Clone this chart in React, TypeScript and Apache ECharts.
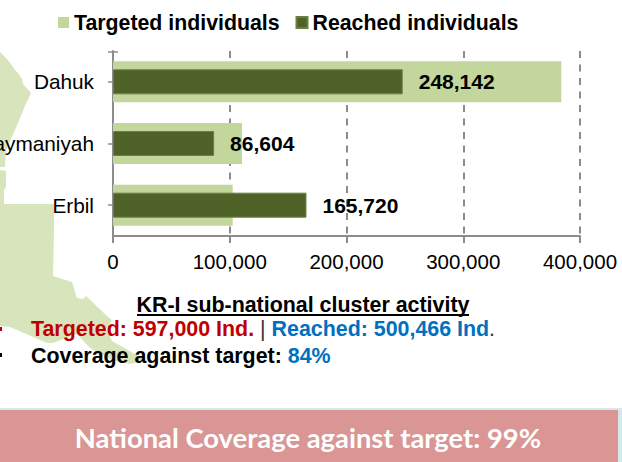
import React, { useEffect, useRef } from "react";
import * as echarts from "echarts";

const categories = ["Erbil", "Sulaymaniyah", "Dahuk"];
const targeted = [102500, 110500, 384000];
const reached = [165720, 86604, 248142];
const xTicks = { min: 0, max: 400000, interval: 100000 };
const legendNames = ["Targeted individuals", "Reached individuals"];

const mapUpper = [[0,52],[6,58],[11,64],[15,70],[18,73],[22,79],[23,84],[31,93],[25,106],[15,130],[6,150],[5,167],[0,167]];
const mapMiddle = [[0,170],[6,171],[6,187],[4,190],[4,192],[0,192]];
const mapLower = [[0,192],[4,192],[4,204],[54,204],[54,231],[53,276],[72,282],[77,298],[83,299],[86,296],[107,316],[112,320],[106,329],[112,341],[133,353],[146,360],[130,364],[113,360],[90,348],[77,334],[53,343],[47,343],[10,327],[0,326]];

const FONT = "'Liberation Sans', Arial, sans-serif";
const fmt = (v: number) => v.toLocaleString("en-US");

export default function App() {
  const ref = useRef<HTMLDivElement>(null);
  useEffect(() => {
    document.body.style.margin = "0";
    const chart = echarts.init(ref.current!, undefined, { renderer: "svg" });
    const mapFill = "#d8e4bc";
    const yBase = {
      type: "category",
      data: categories,
    };
    chart.setOption({
      animation: false,
      textStyle: { fontFamily: FONT },
      legend: {
        left: 58,
        top: 12,
        itemWidth: 11,
        itemHeight: 11,
        itemGap: 16,
        padding: 0,
        icon: "rect",
        selectedMode: false,
        data: legendNames,
        textStyle: { fontFamily: FONT, fontSize: 21.3, fontWeight: "bold", color: "#000" },
      },
      grid: { left: 113, right: 42, top: 51, bottom: 226, outerBoundsMode: "none" },
      xAxis: {
        type: "value",
        ...xTicks,
        axisLine: { show: true, lineStyle: { color: "#8c8c8c", width: 2 } },
        axisTick: { show: true, length: 7, lineStyle: { color: "#8c8c8c", width: 2 } },
        axisLabel: { margin: 15, fontFamily: FONT, fontSize: 20.5, color: "#000", formatter: (v: number) => fmt(v) },
        splitLine: { show: true, lineStyle: { color: "#8c8c8c", width: 2, type: [7, 6.5] } },
      },
      yAxis: [
        {
          ...yBase,
          axisLine: { show: true, lineStyle: { color: "#8c8c8c", width: 2 } },
          axisTick: { show: true, alignWithLabel: true, length: 5, lineStyle: { color: "#8c8c8c", width: 1.5 } },
          axisLabel: { margin: 19, fontFamily: FONT, fontSize: 20.8, color: "#000" },
        },
        { ...yBase, position: "left", show: false },
      ],
      series: [
        {
          name: legendNames[0],
          type: "bar",
          yAxisIndex: 0,
          data: targeted,
          barWidth: 41,
          itemStyle: { color: "#c3d69b" },
          z: 2,
        },
        {
          name: legendNames[1],
          type: "bar",
          yAxisIndex: 1,
          data: reached,
          barWidth: 25,
          itemStyle: { color: "#4f6228", borderColor: "#6b7f45", borderWidth: 1 },
          z: 3,
          label: {
            show: true,
            position: "right",
            distance: 16,
            fontFamily: FONT,
            fontSize: 21,
            fontWeight: "bold",
            color: "#000",
            formatter: (p: any) => fmt(p.value),
          },
        },
      ],
      graphic: [
        ...[mapUpper, mapMiddle, mapLower].map((points) => ({
          type: "polygon",
          z: -5,
          shape: { points },
          style: { fill: mapFill },
          silent: true,
        })),
        { type: "line", z: 5, shape: { x1: 108, y1: 52, x2: 118, y2: 52 }, style: { stroke: "#8c8c8c", lineWidth: 1.5 } },
        { type: "rect", z: 50, shape: { x: 0, y: 327, width: 2, height: 4 }, style: { fill: "#c00000" } },
        { type: "rect", z: 50, shape: { x: 0, y: 353, width: 2, height: 4 }, style: { fill: "#000" } },
        {
          type: "text",
          z: 50,
          x: 303,
          y: 305,
          style: {
            text: "KR-I sub-national cluster activity",
            fill: "#000",
            font: `bold 21.4px ${FONT}`,
            align: "center",
            verticalAlign: "middle",
          },
        },
        { type: "rect", z: 50, shape: { x: 137, y: 314, width: 332, height: 2 }, style: { fill: "#000" } },
        {
          type: "text",
          z: 50,
          x: 31,
          y: 329,
          style: {
            text: "{r|Targeted: 597,000 Ind.}{k| | }{b|Reached: 500,466 Ind}{k|.}",
            verticalAlign: "middle",
            rich: {
              r: { fill: "#c00000", font: `bold 21.4px ${FONT}` },
              b: { fill: "#0070c0", font: `bold 21.4px ${FONT}` },
              k: { fill: "#333", font: `21.4px ${FONT}` },
            },
          },
        },
        {
          type: "text",
          z: 50,
          x: 31,
          y: 356,
          style: {
            text: "{k|Coverage against target: }{b|84%}",
            verticalAlign: "middle",
            rich: {
              k: { fill: "#000", font: `bold 21.4px ${FONT}` },
              b: { fill: "#0070c0", font: `bold 21.4px ${FONT}` },
            },
          },
        },
        { type: "rect", z: 40, shape: { x: 0, y: 408, width: 622, height: 54 }, style: { fill: "#d6e8ee" } },
        { type: "rect", z: 41, shape: { x: 0, y: 410, width: 618, height: 52 }, style: { fill: "#d99694" } },
        {
          type: "text",
          z: 50,
          x: 308,
          y: 437,
          style: {
            text: "National Coverage against target: 99%",
            fill: "#fff",
            font: "bold 27.4px Lato, sans-serif",
            align: "center",
            verticalAlign: "middle",
          },
        },
      ],
    });
    return () => chart.dispose();
  }, []);
  return <div ref={ref} style={{ width: 622, height: 462 }} />;
}
